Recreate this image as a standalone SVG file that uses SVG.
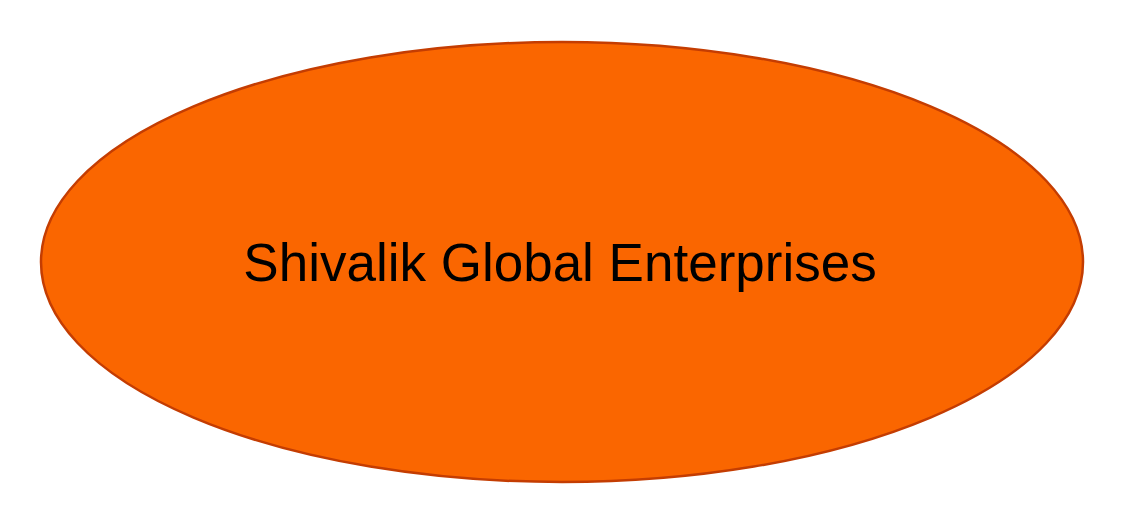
<svg xmlns="http://www.w3.org/2000/svg" width="1128" height="528" viewBox="0 0 1128 528">
<style>
.node{fill:#fa6600;stroke:#c43d02;stroke-width:2.5}
.label{font-family:"Liberation Sans",Arial,sans-serif;font-size:53px;fill:#000;text-anchor:middle}
</style>
<rect width="1128" height="528" fill="#ffffff"/>
<g id="connectors"></g>
<g id="node-shivalik">
<ellipse class="node" cx="562" cy="262" rx="521" ry="220"/>
<text class="label" x="560" y="281">Shivalik Global Enterprises</text>
</g>
</svg>
